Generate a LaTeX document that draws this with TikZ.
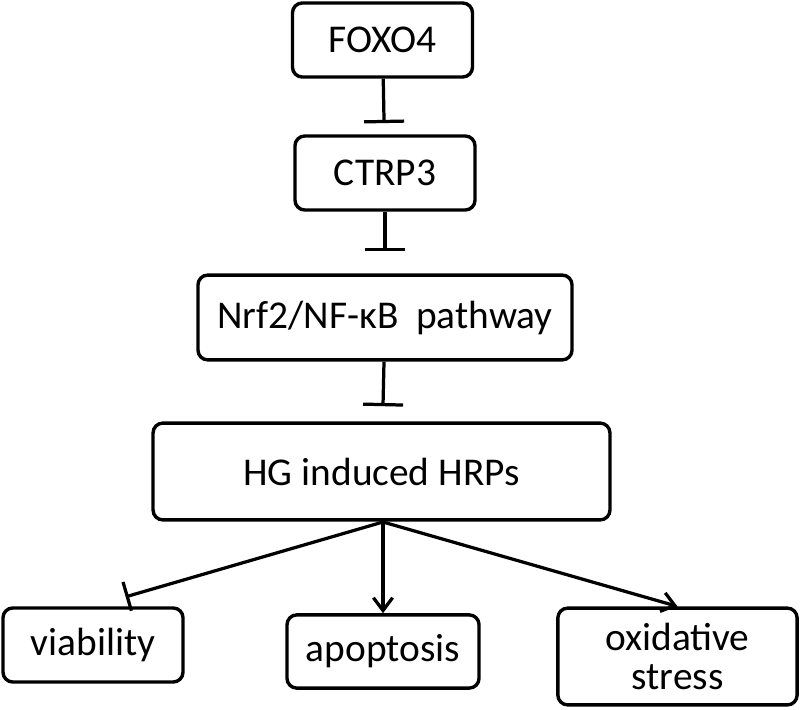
\documentclass[tikz,border=0pt]{standalone}
\usepackage{fontspec}
\setmainfont{Carlito}
\usetikzlibrary{arrows.meta}

\begin{document}
\begin{tikzpicture}[
    x=0.025cm, y=-0.025cm,
    every node/.style={font=\fontsize{28}{32}\selectfont},
    box/.style={
        rectangle, rounded corners=7pt, line width=2.4pt,
        draw=black, fill=white, align=center, inner sep=2pt,
    },
    inh/.style={-{Bar[width=1cm]}, line width=2.3pt},
    act/.style={-{Straight Barb[length=0.32cm, width=0.48cm]}, line width=2.3pt},
]
\useasboundingbox[fill=white] (0,0) rectangle (800,709);

% ================================================ the chain
\node[box, minimum width=4.5cm, minimum height=1.85cm] (foxo) at (382.5, 40) {FOXO4};
\node[box, minimum width=4.5cm, minimum height=1.85cm] (ctrp) at (385, 173) {CTRP3};
\node[box, minimum width=9.35cm, minimum height=2.12cm] (nrf) at (385, 317.5) {Nrf2/NF-κB\ \ pathway};
\node[box, minimum width=11.42cm, minimum height=2.42cm] (hg) at (381.5, 471.5) {HG induced HRPs};

\draw[inh, shorten >=0.28cm] (foxo) -- (ctrp);
\draw[inh, shorten >=0.55cm] (ctrp) -- (nrf);
\draw[inh, shorten >=0.38cm] (nrf) -- (hg);

% ================================================ the outcomes
\node[box, minimum width=4.5cm, minimum height=1.85cm] (via) at (93, 645) {viability};
\node[box, minimum width=4.8cm, minimum height=1.83cm] (apo) at (383, 651.5) {apoptosis};
\node[box, minimum width=5.98cm, minimum height=2.42cm] (oxi) at (677.5, 656.5) {oxidative\\[-4pt] stress};

\coordinate (hub) at (383, 522);
\draw[inh, -{Bar[width=0.75cm]}, shorten >=0.85cm] (hub) -- (via.north);
\draw[act] (hub) -- (apo.north);
\draw[act] (hub) -- (oxi.north);

\end{tikzpicture}
\end{document}
